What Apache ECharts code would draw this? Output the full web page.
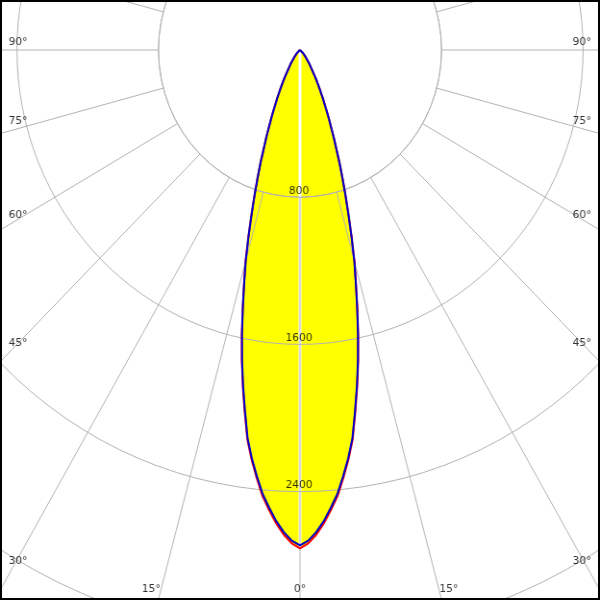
<!DOCTYPE html>
<html>
<head>
<meta charset="utf-8">
<script src="https://cdn.jsdelivr.net/npm/echarts@6/dist/echarts.min.js"></script>
<style>
html,body{margin:0;padding:0;overflow:hidden;background:#fff;}
#wrap{position:relative;width:600px;height:600px;overflow:hidden;background:#fff;}
#chart{position:absolute;left:0;top:0;width:624px;height:600px;transform:scaleX(0.9615);transform-origin:0 0;}
#frame{position:absolute;left:0;top:0;width:600px;height:600px;box-sizing:border-box;border:2px solid #000;pointer-events:none;}
</style>
</head>
<body>
<div id="wrap"><div id="chart"></div><div id="frame"></div></div>
<script>
// ---- data ----
// gamma angles (degrees from nadir)
const gammaAngles = [0,1,2,3,4,5,6,7,8,9,10,11,12,13,14,15,16,17,18,19,20,22,24,26,28,30,35,40,45,50,60,70,80,90];
// luminous intensity, C0-C180 plane (red)
const planeC0C180 = [2708,2682,2636,2577,2506,2434,2340,2244,2138,1995,1860,1723,1582,1440,1308,1190,1060,940,835,740,655,505,390,300,231,178,93,49,26,14,4,1,0,0];
// luminous intensity, C90-C270 plane (blue)
const planeC90C270 = [2692,2667,2622,2564,2494,2422,2330,2235,2130,1988,1853,1717,1577,1436,1304,1186,1057,937,832,737,652,503,388,299,230,177,92,48,25,13,4,1,0,0];
// radial tick labels
const radiusLabels = [800,1600,2400];
// angle labels
const angleLabels = [0,15,30,45,60,75,90];

// ---- layout ----
const SCALE_X = 0.9615;
const CY = 50;
const R_MAX = 4000, R_OUT_PX = 736, R_IN_PX = 147.2;
const PX_PER_UNIT = R_OUT_PX / R_MAX;
const GRID = '#b4b4b4';
const FONT = {fontFamily:'DejaVu Sans, Verdana, sans-serif', fontSize:11, color:'#000000'};
const SIDE_NUDGE = {30:-3, 45:0, 60:4, 75:7.6, 90:8.3};

function planeCurve(vals){
  const pts = [];
  for (let i = gammaAngles.length - 1; i >= 0; i--) pts.push([vals[i], -gammaAngles[i]]);
  for (let i = 1; i < gammaAngles.length; i++) pts.push([vals[i], gammaAngles[i]]);
  return pts;
}

// angle label anchor points (placed along each radial line near the frame)
const angleLabelData = [];
angleLabels.forEach(function(g){
  const rad = g * Math.PI / 180;
  if (g <= 15) {
    const rPx = (589.5 - CY) / Math.cos(rad);
    const r = rPx / PX_PER_UNIT;
    if (g === 0) {
      angleLabelData.push({value:[r, 0], name:g+'°', label:{position:'inside'}});
    } else {
      angleLabelData.push({value:[r, g], name:g+'°', label:{position:'left', distance:0}});
      angleLabelData.push({value:[r, -g], name:g+'°', label:{position:'right', distance:0}});
    }
  } else {
    const rPx = ((300 - 18) / SCALE_X) / Math.sin(rad);
    const r = rPx / PX_PER_UNIT;
    const n = SIDE_NUDGE[g] || 0;
    angleLabelData.push({value:[r, g], name:g+'°', label:{position:'inside', offset:[0,-n]}});
    angleLabelData.push({value:[r, -g], name:g+'°', label:{position:'inside', offset:[0,-n]}});
  }
});
const radiusLabelData = radiusLabels.map(function(v){
  return {value:[v, 0], name:String(v), label:{position:'inside', offset:[-1,-6]}};
});

const chart = echarts.init(document.getElementById('chart'), null, {renderer:'canvas'});
chart.setOption({
  animation:false,
  backgroundColor:'#fff',
  polar:[
    {center:['50%', CY], radius:[R_IN_PX, R_OUT_PX]},
    {center:['50%', CY], radius:[0, R_OUT_PX]}
  ],
  angleAxis:[
    {polarIndex:0, type:'value', min:-180, max:180, interval:15, startAngle:90, clockwise:true, z:3,
     axisLine:{show:true, lineStyle:{color:GRID, width:1}},
     axisTick:{show:false}, axisLabel:{show:false},
     splitLine:{show:true, lineStyle:{color:GRID, width:1}}},
    {polarIndex:1, type:'value', min:-180, max:180, startAngle:90, clockwise:true, show:false}
  ],
  radiusAxis:[
    {polarIndex:0, type:'value', min:800, max:R_MAX, interval:800, z:3,
     axisLine:{show:false}, axisTick:{show:false}, axisLabel:{show:false},
     splitLine:{show:true, lineStyle:{color:GRID, width:1}}},
    {polarIndex:1, type:'value', min:0, max:R_MAX, show:false}
  ],
  series:[
    {type:'line', coordinateSystem:'polar', polarIndex:1, data:planeCurve(planeC0C180),
     symbol:'none', silent:true, z:1, lineStyle:{width:0, opacity:0},
     areaStyle:{color:'#ffff00', opacity:1}},
    {type:'line', coordinateSystem:'polar', polarIndex:1,
     data:[[0,0],[planeC0C180[0],0]], symbol:'none', silent:true, z:2,
     lineStyle:{color:'#ffffff', width:3}},
    {type:'line', coordinateSystem:'polar', polarIndex:1, data:planeCurve(planeC0C180),
     symbol:'none', silent:true, z:4, lineStyle:{color:'#ff0000', width:2}},
    {type:'line', coordinateSystem:'polar', polarIndex:1, data:planeCurve(planeC90C270),
     symbol:'none', silent:true, z:5, lineStyle:{color:'#0000c8', width:2}},
    {type:'scatter', coordinateSystem:'polar', polarIndex:1, data:angleLabelData.concat(radiusLabelData),
     symbolSize:1, silent:true, z:6, itemStyle:{color:'rgba(0,0,0,0)'},
     label:Object.assign({show:true, formatter:'{b}'}, FONT)}
  ]
});
</script>
</body>
</html>
